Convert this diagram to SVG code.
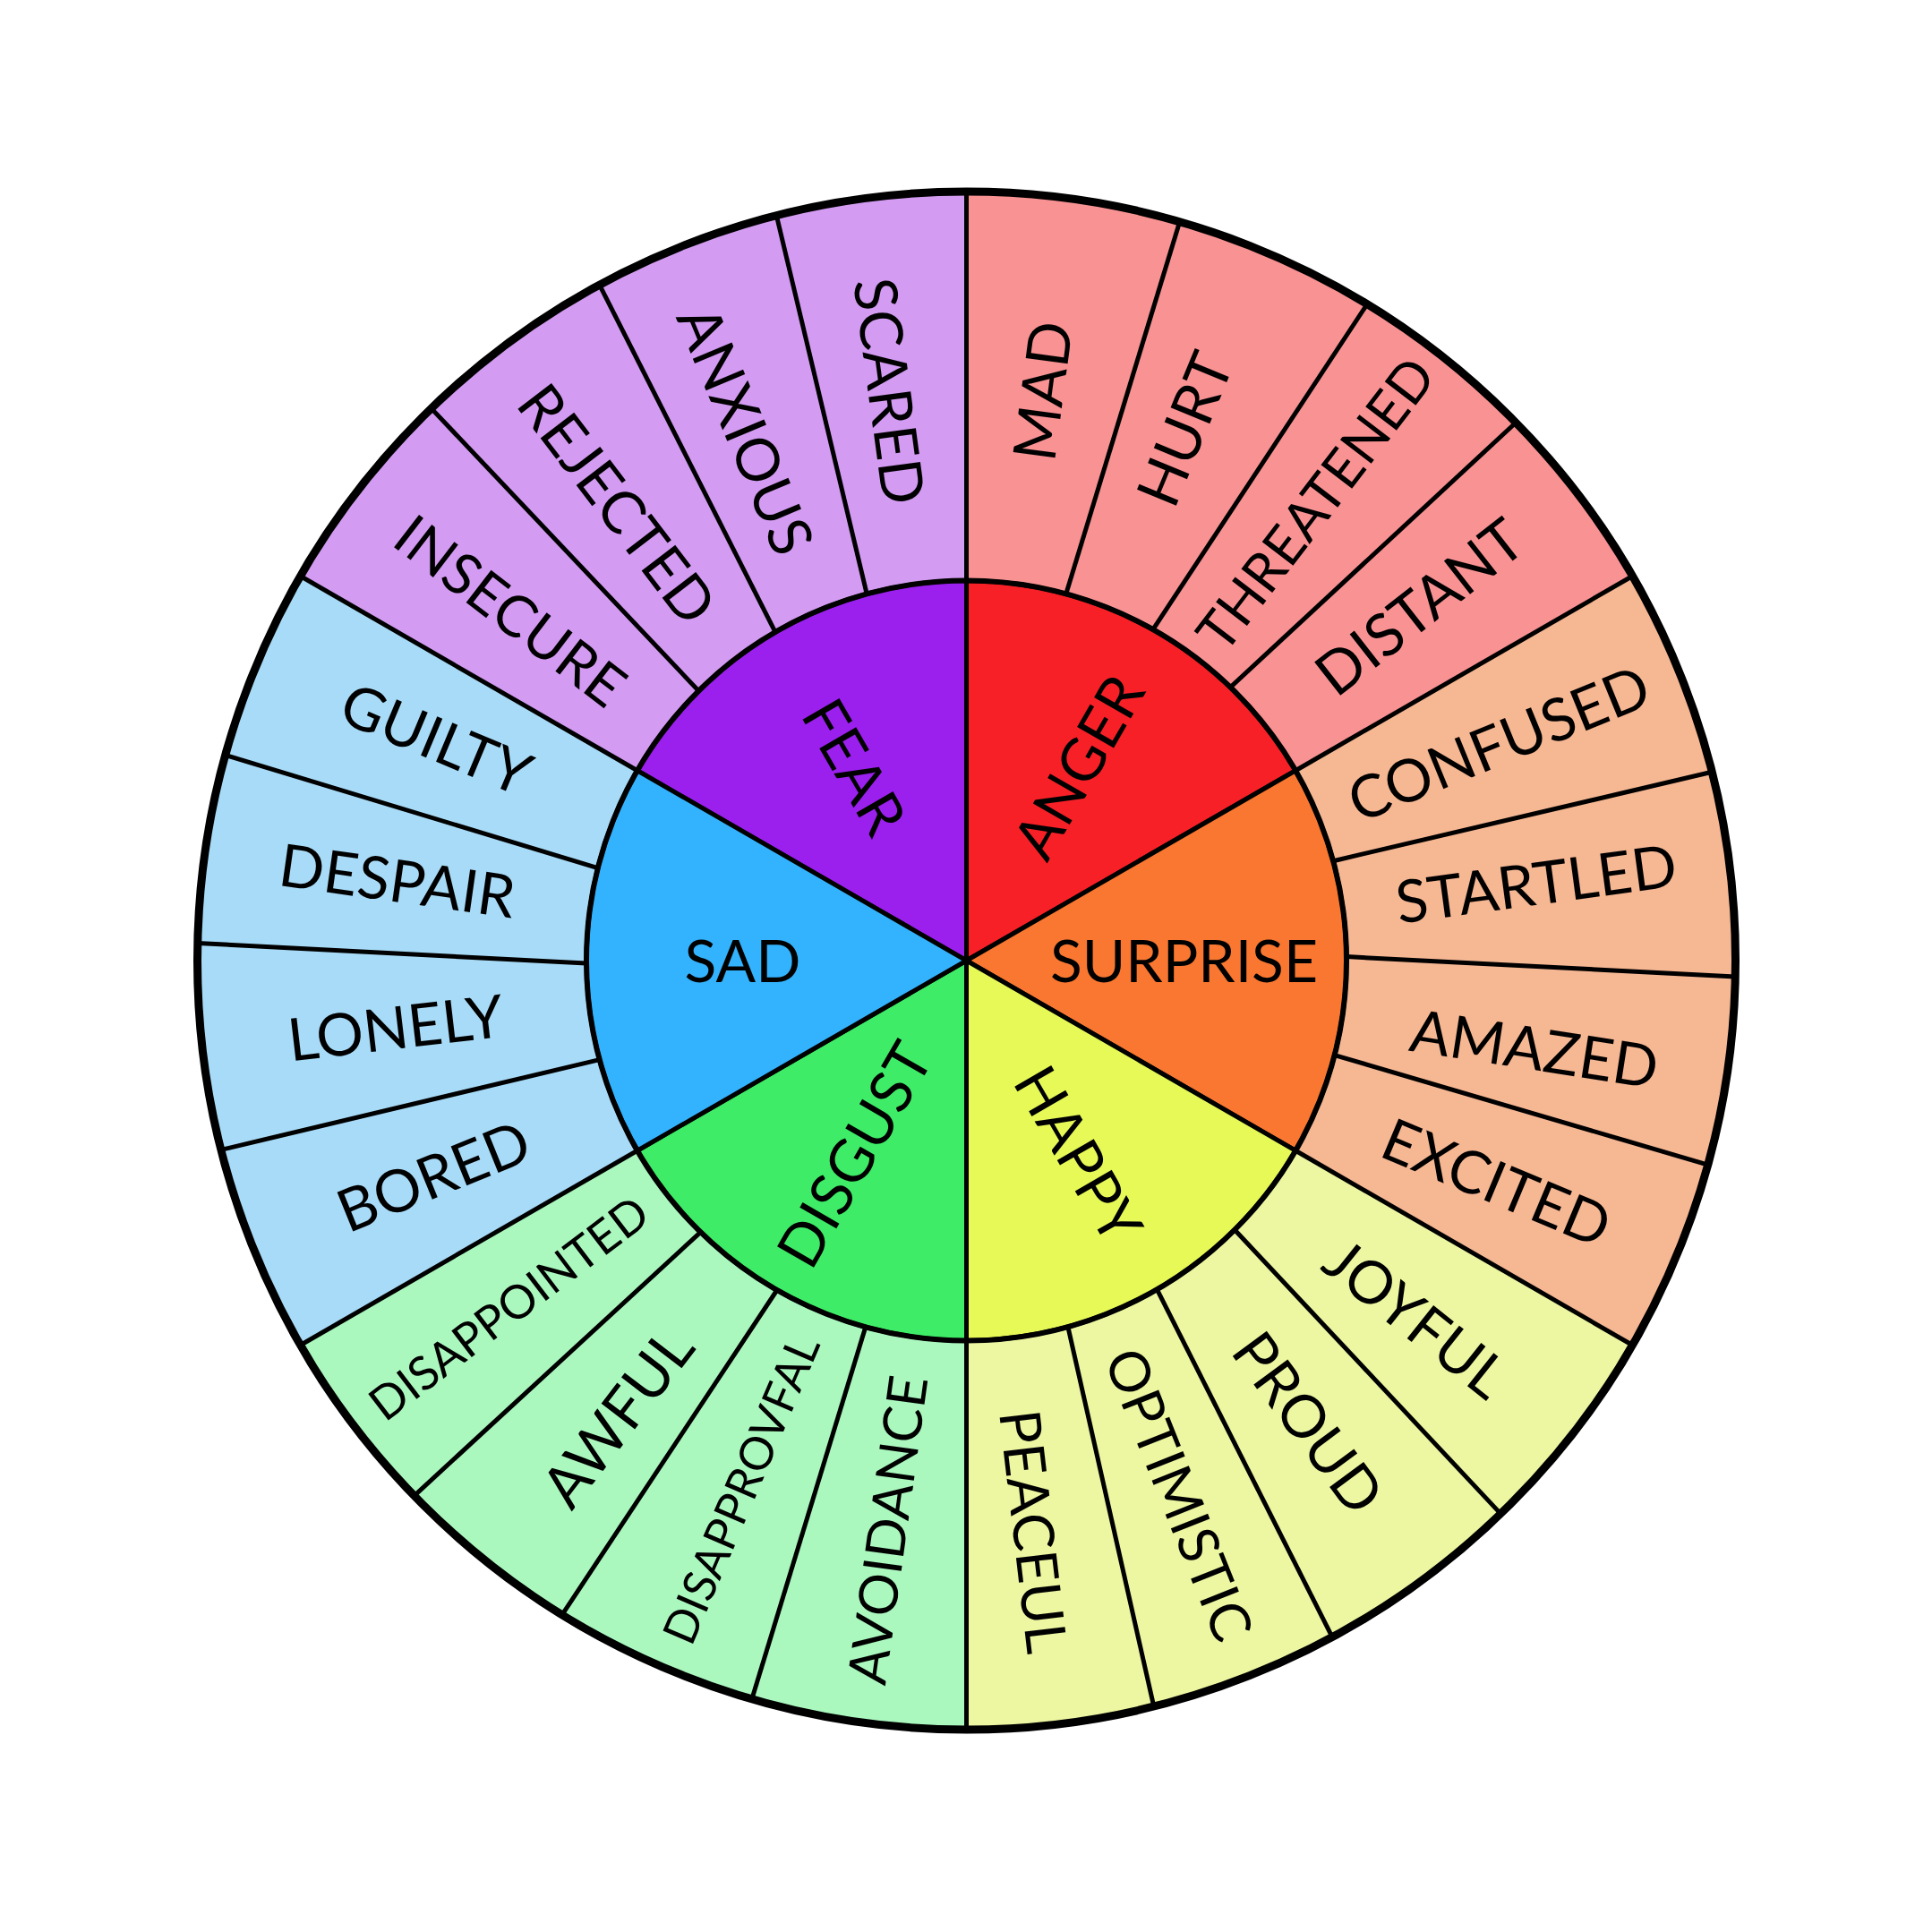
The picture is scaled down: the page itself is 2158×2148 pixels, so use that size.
<svg xmlns="http://www.w3.org/2000/svg" width="2158" height="2148" viewBox="0 0 2158 2148">
<style>
.ring{stroke:none}
.core{stroke:#000;stroke-width:5;stroke-linejoin:round}
.div line{stroke:#000;stroke-width:5;stroke-linecap:butt}
text{font-family:Lato,"Noto Sans",sans-serif;fill:#000;text-anchor:middle}
.in{font-size:66px}
.out{font-size:66px}
</style>
<rect width="2158" height="2148" fill="#fff"/>
<g id="fear">
<path class="ring" fill="#D39CF2" d="M335.6,643.5 A859,859 0 0 1 1079.5,214 L1079.5,648.5 A424.5,424.5 0 0 0 711.9,860.75 Z"/>
<path class="core" fill="#9B20EE" d="M1079.5,1073 L711.9,860.75 A424.5,424.5 0 0 1 1079.5,648.5 Z"/>
<text class="in" dy="0.36em" transform="translate(1079.5,1073) rotate(330) translate(0,-250) rotate(90)">FEAR</text>
<g id="insecure"><text class="out" style="font-size:64px" dy="0.36em" transform="translate(1079.5,1073) rotate(307.5) translate(0,-642) rotate(90)">INSECURE</text></g>
<g id="rejected"><text class="out" dy="0.36em" transform="translate(1079.5,1073) rotate(322.6) translate(0,-642) rotate(90)">REJECTED</text></g>
<g id="anxious"><text class="out" dy="0.36em" transform="translate(1079.5,1073) rotate(337.4) translate(0,-642) rotate(90)">ANXIOUS</text></g>
<g id="scared"><text class="out" dy="0.36em" transform="translate(1079.5,1073) rotate(352.3) translate(0,-642) rotate(90)">SCARED</text></g>
</g>
<g id="anger">
<path class="ring" fill="#F99293" d="M1079.5,214 A859,859 0 0 1 1823.4,643.5 L1447.1,860.75 A424.5,424.5 0 0 0 1079.5,648.5 Z"/>
<path class="core" fill="#F82027" d="M1079.5,1073 L1079.5,648.5 A424.5,424.5 0 0 1 1447.1,860.75 Z"/>
<text class="in" dy="0.36em" transform="translate(1079.5,1073) rotate(30) translate(0,-250) rotate(-90)">ANGER</text>
<g id="mad"><text class="out" dy="0.36em" transform="translate(1079.5,1073) rotate(7.6) translate(0,-642) rotate(-90)">MAD</text></g>
<g id="hurt"><text class="out" dy="0.36em" transform="translate(1079.5,1073) rotate(22.3) translate(0,-642) rotate(-90)">HURT</text></g>
<g id="threatened"><text class="out" style="font-size:61px" dy="0.36em" transform="translate(1079.5,1073) rotate(37.4) translate(0,-642) rotate(-90)">THREATENED</text></g>
<g id="distant"><text class="out" dy="0.36em" transform="translate(1079.5,1073) rotate(52) translate(0,-642) rotate(-90)">DISTANT</text></g>
</g>
<g id="surprise">
<path class="ring" fill="#F6B793" d="M1823.4,643.5 A859,859 0 0 1 1823.4,1502.5 L1447.1,1285.25 A424.5,424.5 0 0 0 1447.1,860.75 Z"/>
<path class="core" fill="#F97730" d="M1079.5,1073 L1447.1,860.75 A424.5,424.5 0 0 1 1447.1,1285.25 Z"/>
<text class="in" dy="0.36em" transform="translate(1079.5,1073) rotate(90) translate(0,-243) rotate(-90)">SURPRISE</text>
<g id="confused"><text class="out" dy="0.36em" transform="translate(1079.5,1073) rotate(67.8) translate(0,-642) rotate(-90)">CONFUSED</text></g>
<g id="startled"><text class="out" dy="0.36em" transform="translate(1079.5,1073) rotate(82.3) translate(0,-642) rotate(-90)">STARTLED</text></g>
<g id="amazed"><text class="out" dy="0.36em" transform="translate(1079.5,1073) rotate(98.8) translate(0,-642) rotate(-90)">AMAZED</text></g>
<g id="excited"><text class="out" dy="0.36em" transform="translate(1079.5,1073) rotate(112.7) translate(0,-642) rotate(-90)">EXCITED</text></g>
</g>
<g id="happy">
<path class="ring" fill="#EDF6A1" d="M1823.4,1502.5 A859,859 0 0 1 1079.5,1932 L1079.5,1497.5 A424.5,424.5 0 0 0 1447.1,1285.25 Z"/>
<path class="core" fill="#E7F957" d="M1079.5,1073 L1447.1,1285.25 A424.5,424.5 0 0 1 1079.5,1497.5 Z"/>
<text class="in" dy="0.36em" transform="translate(1079.5,1073) rotate(150) translate(0,-250) rotate(-90)">HAPPY</text>
<g id="joyful"><text class="out" dy="0.36em" transform="translate(1079.5,1073) rotate(128.5) translate(0,-642) rotate(-90)">JOYFUL</text></g>
<g id="proud"><text class="out" dy="0.36em" transform="translate(1079.5,1073) rotate(143.5) translate(0,-642) rotate(-90)">PROUD</text></g>
<g id="optimistic"><text class="out" style="font-size:62px" dy="0.36em" transform="translate(1079.5,1073) rotate(158.3) translate(0,-642) rotate(-90)">OPTIMISTIC</text></g>
<g id="peaceul"><text class="out" style="font-size:63px" dy="0.36em" transform="translate(1079.5,1073) rotate(173.3) translate(0,-642) rotate(-90)">PEACEUL</text></g>
</g>
<g id="disgust">
<path class="ring" fill="#ABF8BF" d="M1079.5,1932 A859,859 0 0 1 335.6,1502.5 L711.9,1285.25 A424.5,424.5 0 0 0 1079.5,1497.5 Z"/>
<path class="core" fill="#3EEC67" d="M1079.5,1073 L1079.5,1497.5 A424.5,424.5 0 0 1 711.9,1285.25 Z"/>
<text class="in" dy="0.36em" transform="translate(1079.5,1073) rotate(210) translate(0,-250) rotate(90)">DISGUST</text>
<g id="avoidance"><text class="out" style="font-size:60px" dy="0.36em" transform="translate(1079.5,1073) rotate(187.9) translate(0,-642) rotate(90)">AVOIDANCE</text></g>
<g id="disapprovfal"><text class="out" style="font-size:51px" dy="0.36em" transform="translate(1079.5,1073) rotate(203.1) translate(0,-642) rotate(90)">DISAPPROVFAL</text></g>
<g id="awful"><text class="out" dy="0.36em" transform="translate(1079.5,1073) rotate(217.4) translate(0,-642) rotate(90)">AWFUL</text></g>
<g id="disappointed"><text class="out" style="font-size:52px" dy="0.36em" transform="translate(1079.5,1073) rotate(232.8) translate(0,-642) rotate(90)">DISAPPOINTED</text></g>
</g>
<g id="sad">
<path class="ring" fill="#A8DBF7" d="M335.6,1502.5 A859,859 0 0 1 335.6,643.5 L711.9,860.75 A424.5,424.5 0 0 0 711.9,1285.25 Z"/>
<path class="core" fill="#33B3FE" d="M1079.5,1073 L711.9,1285.25 A424.5,424.5 0 0 1 711.9,860.75 Z"/>
<text class="in" dy="0.36em" transform="translate(1079.5,1073) rotate(270) translate(0,-250) rotate(90)">SAD</text>
<g id="bored"><text class="out" dy="0.36em" transform="translate(1079.5,1073) rotate(248) translate(0,-642) rotate(90)">BORED</text></g>
<g id="lonely"><text class="out" dy="0.36em" transform="translate(1079.5,1073) rotate(263.3) translate(0,-642) rotate(90)">LONELY</text></g>
<g id="despair"><text class="out" dy="0.36em" transform="translate(1079.5,1073) rotate(278) translate(0,-642) rotate(90)">DESPAIR</text></g>
<g id="guilty"><text class="out" dy="0.36em" transform="translate(1079.5,1073) rotate(292.7) translate(0,-642) rotate(90)">GUILTY</text></g>
</g>
<g id="connectors" class="div">
<line x1="1079.5" y1="648.5" x2="1079.5" y2="214"/>
<line x1="1447.1" y1="860.75" x2="1823.4" y2="643.5"/>
<line x1="1447.1" y1="1285.25" x2="1823.4" y2="1502.5"/>
<line x1="1079.5" y1="1497.5" x2="1079.5" y2="1932"/>
<line x1="711.9" y1="1285.25" x2="335.6" y2="1502.5"/>
<line x1="711.9" y1="860.75" x2="335.6" y2="643.5"/>
<line x1="1190.8" y1="663.3" x2="1317.7" y2="247.7"/>
<line x1="1287.9" y1="703.2" x2="1527.0" y2="339.8"/>
<line x1="1374.4" y1="767.6" x2="1693.2" y2="472.0"/>
<line x1="1489.2" y1="961.7" x2="1912.3" y2="862.3"/>
<line x1="1504.0" y1="1068.6" x2="1938.3" y2="1091.0"/>
<line x1="1490.7" y1="1178.6" x2="1907.7" y2="1301.1"/>
<line x1="1379.1" y1="1373.7" x2="1676.2" y2="1690.9"/>
<line x1="1292.4" y1="1440.3" x2="1488.1" y2="1828.6"/>
<line x1="1192.9" y1="1482.1" x2="1288.8" y2="1906.1"/>
<line x1="966.8" y1="1482.3" x2="839.8" y2="1897.9"/>
<line x1="867.9" y1="1441.0" x2="627.9" y2="1803.7"/>
<line x1="782.5" y1="1376.3" x2="462.6" y2="1670.8"/>
<line x1="669.7" y1="1183.6" x2="246.9" y2="1284.4"/>
<line x1="655.0" y1="1076.0" x2="220.7" y2="1053.5"/>
<line x1="667.8" y1="969.6" x2="251.7" y2="843.4"/>
<line x1="780.4" y1="771.8" x2="481.7" y2="456.1"/>
<line x1="866.0" y1="706.1" x2="669.6" y2="318.1"/>
<line x1="968.2" y1="663.3" x2="867.3" y2="240.6"/>
</g>
<circle cx="1079.5" cy="1073" r="424.5" fill="none" stroke="#000" stroke-width="6"/>
<circle cx="1079.5" cy="1073" r="859" fill="none" stroke="#000" stroke-width="9"/>
</svg>
